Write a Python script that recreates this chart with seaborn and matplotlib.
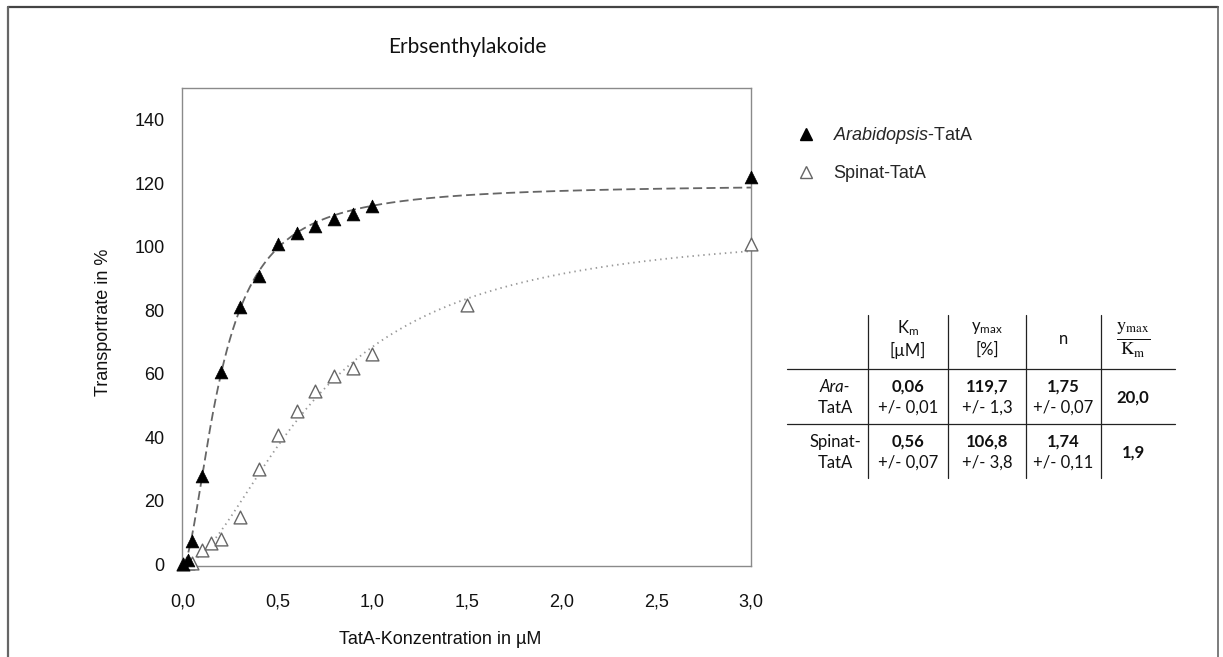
import numpy as np
import pandas as pd
import matplotlib
matplotlib.use("Agg")
import matplotlib.pyplot as plt
from matplotlib.lines import Line2D
import seaborn as sns

# ---------------- data ----------------
ara_x = [0.0, 0.025, 0.05, 0.1, 0.2, 0.3, 0.4, 0.5, 0.6, 0.7, 0.8, 0.9, 1.0, 3.0]
ara_y = [0.0, 1.3, 7.3, 27.8, 60.5, 81.0, 90.8, 101.0, 104.2, 106.7, 108.6, 110.4, 112.7, 122.1]
spi_x = [0.0, 0.025, 0.05, 0.1, 0.15, 0.2, 0.3, 0.4, 0.5, 0.6, 0.7, 0.8, 0.9, 1.0, 1.5, 3.0]
spi_y = [0.0, 0.3, 0.3, 4.5, 6.8, 7.9, 15.0, 29.9, 40.8, 48.2, 54.5, 59.4, 61.7, 66.2, 81.6, 101.0]

series_names = ["Arabidopsis-TatA", "Spinat-TatA"]
# fit parameters as printed in the table (Hill fit: y = ymax*x^n/(Km + x^n))
row_labels = [("Ara-", "TatA"), ("Spinat-", "TatA")]
km_vals = [0.06, 0.56]
km_err = ["0,01", "0,07"]
ymax_vals = [119.7, 106.8]
ymax_err = ["1,3", "3,8"]
n_vals = [1.75, 1.74]
n_err = ["0,07", "0,11"]
ratio_vals = ["20,0", "1,9"]

x_ticks = [0.0, 0.5, 1.0, 1.5, 2.0, 2.5, 3.0]
y_ticks = [0, 20, 40, 60, 80, 100, 120, 140]

# ---------------- style ----------------
sns.set_theme(style="white")
plt.rcParams["font.family"] = ["Liberation Sans", "DejaVu Sans"]
plt.rcParams["mathtext.fontset"] = "custom"
plt.rcParams["mathtext.rm"] = "Lato"
plt.rcParams["mathtext.it"] = "Liberation Sans:italic"
plt.rcParams["mathtext.bf"] = "Lato:bold"

W, H = 1223, 657
fig = plt.figure(figsize=(W / 100, H / 100), dpi=100)
fx = lambda px: px / W
fy = lambda py: 1 - py / H

L, R, T, B = 182, 751, 88, 566
ax = fig.add_axes([fx(L), fy(B), (R - L) / W, (B - T) / H])

pts = pd.DataFrame({
    "x": ara_x + spi_x,
    "y": ara_y + spi_y,
    "series": [series_names[0]] * len(ara_x) + [series_names[1]] * len(spi_x),
})

xs = np.linspace(0, 3.0, 400)
curves = pd.DataFrame({
    "x": np.concatenate([xs, xs]),
    "y": np.concatenate([
        ymax_vals[0] * xs ** n_vals[0] / (km_vals[0] + xs ** n_vals[0]),
        ymax_vals[1] * xs ** n_vals[1] / (km_vals[1] + xs ** n_vals[1]),
    ]),
    "series": [series_names[0]] * len(xs) + [series_names[1]] * len(xs),
})

sns.lineplot(data=curves[curves.series == series_names[0]], x="x", y="y", ax=ax,
             color="#666666", lw=1.3, legend=False, zorder=2)
ax.lines[-1].set_dashes((5, 2.4))
sns.lineplot(data=curves[curves.series == series_names[1]], x="x", y="y", ax=ax,
             color="#999999", lw=1.3, legend=False, zorder=2)
ax.lines[-1].set_dashes((0.8, 2.2))

sns.scatterplot(data=pts[pts.series == series_names[1]], x="x", y="y", ax=ax,
                marker="^", s=85, facecolor="white", edgecolor="#666666",
                linewidth=1.0, legend=False, zorder=3)
sns.scatterplot(data=pts[pts.series == series_names[0]], x="x", y="y", ax=ax,
                marker="^", s=85, color="black", edgecolor="black",
                linewidth=0.5, legend=False, zorder=4)
for c in ax.collections:
    c.set_clip_on(False)

ax.set_xlim(-0.005, 3.0)
ax.set_ylim(-0.5, 150)
ax.set_xticks(x_ticks)
ax.set_xticklabels([f"{v:.1f}".replace(".", ",") for v in x_ticks])
ax.set_yticks(y_ticks)
ax.set_yticklabels([str(v) for v in y_ticks])
for s in ax.spines.values():
    s.set_color("#8a8a8a")
    s.set_linewidth(1.0)
ax.tick_params(axis="both", which="both", direction="out", length=6.5, width=0.9,
               color="#8a8a8a", labelsize=13, labelcolor="#111111")
ax.tick_params(axis="x", pad=13)
ax.tick_params(axis="y", pad=6)
ax.set_xlabel("")
ax.set_ylabel("")
fig.text(fx(440), fy(640), "TatA-Konzentration in µM", ha="center", va="center",
         fontsize=13, color="#111111")
fig.text(fx(104), fy(322), "Transportrate in %", ha="center", va="center",
         rotation=90, fontsize=13, color="#111111")

fig.text(fx(467), fy(47), "Erbsenthylakoide", ha="center", va="center",
         fontsize=15, family="Lato", color="#111111")

# legend
handles = [
    Line2D([], [], ls="none", marker="^", ms=8.5, mfc="black", mec="black"),
    Line2D([], [], ls="none", marker="^", ms=8.5, mfc="white", mec="#666666", mew=1.0),
]
labels = [r"$\it{Arabidopsis}$-TatA", "Spinat-TatA"]
ax.legend(handles, labels, loc="upper left", bbox_to_anchor=(fx(786), fy(116)),
          bbox_transform=fig.transFigure, frameon=False, fontsize=13,
          handletextpad=0.9, labelspacing=1.05, handlelength=1.2, borderpad=0)

# table
tkw = dict(ha="center", va="center", fontsize=12, family="Lato", color="#111111")
cols = [835, 908, 987, 1063, 1133]
fig.text(fx(cols[1]), fy(328), r"K$_{\mathrm{m}}$", **tkw)
fig.text(fx(cols[1]), fy(350), "[µM]", **tkw)
fig.text(fx(cols[2]), fy(328), r"y$_{\mathrm{max}}$", **tkw)
fig.text(fx(cols[2]), fy(350), "[%]", **tkw)
fig.text(fx(cols[3]), fy(339), "n", **tkw)
fig.text(fx(cols[4]), fy(340), r"$\frac{\mathrm{y_{max}}}{\mathrm{K_m}}$",
         ha="center", va="center", fontsize=19, math_fontfamily="stix", color="#111111")

row_top = [387, 442]
for i in range(2):
    y1, y2 = row_top[i], row_top[i] + 21
    fig.text(fx(cols[0]), fy(y1), row_labels[i][0],
             style="italic" if i == 0 else "normal", **tkw)
    fig.text(fx(cols[0]), fy(y2), row_labels[i][1], **tkw)
    fig.text(fx(cols[1]), fy(y1), f"{km_vals[i]:.2f}".replace(".", ","), weight="bold", **tkw)
    fig.text(fx(cols[1]), fy(y2), "+/- " + km_err[i], **tkw)
    fig.text(fx(cols[2]), fy(y1), f"{ymax_vals[i]:.1f}".replace(".", ","), weight="bold", **tkw)
    fig.text(fx(cols[2]), fy(y2), "+/- " + ymax_err[i], **tkw)
    fig.text(fx(cols[3]), fy(y1), f"{n_vals[i]:.2f}".replace(".", ","), weight="bold", **tkw)
    fig.text(fx(cols[3]), fy(y2), "+/- " + n_err[i], **tkw)
    fig.text(fx(cols[4]), fy((y1 + y2) / 2), ratio_vals[i], weight="bold", **tkw)

for yy in [369, 424]:
    fig.add_artist(Line2D([fx(787), fx(1175)], [fy(yy), fy(yy)], color="#222222", lw=0.9))
for xx in [868, 948, 1026, 1101]:
    fig.add_artist(Line2D([fx(xx), fx(xx)], [fy(315), fy(478)], color="#222222", lw=0.9))

# figure frame (top, left, right)
fig.add_artist(Line2D([fx(8), fx(1218)], [fy(7), fy(7)], color="#444444", lw=1.6))
fig.add_artist(Line2D([fx(8), fx(8)], [fy(7), fy(657)], color="#666666", lw=1.6))
fig.add_artist(Line2D([fx(1218), fx(1218)], [fy(7), fy(657)], color="#666666", lw=1.2))

fig.savefig("out.png", dpi=100, facecolor="white")
